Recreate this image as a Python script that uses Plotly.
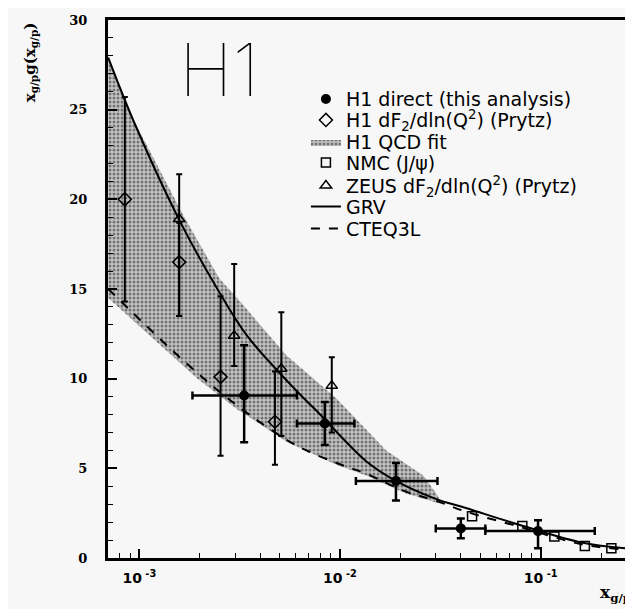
import plotly.graph_objects as go

# ---------------- data ----------------
# H1 direct (this analysis)
h1d_x = [3.33e-3, 8.4e-3, 0.019, 0.040, 0.097]
h1d_y = [9.06, 7.5, 4.3, 1.65, 1.5]
h1d_yp = [2.8, 1.2, 1.0, 0.55, 0.6]
h1d_ym = [2.6, 1.2, 1.1, 0.55, 0.95]
h1d_xlo = [1.84e-3, 6.1e-3, 0.012, 0.030, 0.053]
h1d_xhi = [6.1e-3, 0.0118, 0.0306, 0.053, 0.186]

# H1 dF2/dln(Q^2) (Prytz)
h1p_x = [8.47e-4, 1.58e-3, 2.54e-3, 4.74e-3]
h1p_y = [20.0, 16.5, 10.1, 7.6]
h1p_yp = [5.7, 2.2, 4.5, 2.8]
h1p_ym = [5.7, 3.0, 4.4, 2.4]

# NMC (J/psi)
nmc_x = [0.0455, 0.081, 0.117, 0.166, 0.225]
nmc_y = [2.33, 1.78, 1.2, 0.67, 0.55]

# ZEUS dF2/dln(Q^2) (Prytz)
zeus_x = [1.58e-3, 2.97e-3, 5.1e-3, 9.1e-3]
zeus_y = [18.9, 12.4, 10.55, 9.6]
zeus_yp = [2.5, 4.0, 3.15, 1.6]
zeus_ym = [5.4, 1.7, 3.75, 2.6]

# H1 QCD fit band
band_x_up = [7.0e-4, 9.0e-4, 1.64e-3, 2.5e-3, 3.18e-3, 5.4e-3, 9.6e-3, 0.0135, 0.017, 0.026, 0.031]
band_y_up = [28.0, 24.8, 19.2, 15.6, 14.3, 11.3, 8.9, 7.2, 6.0, 4.6, 3.4]
band_x_lo = [7.0e-4, 1.95e-3, 3.07e-3, 5.4e-3, 9.6e-3, 0.0135, 0.0213, 0.031]
band_y_lo = [14.5, 10.0, 8.3, 6.5, 5.2, 4.6, 3.6, 3.05]

# GRV
grv_x = [7.0e-4, 9.5e-4, 1.59e-3, 2.45e-3, 3.44e-3, 6.1e-3, 7.66e-3, 0.0135, 0.019, 0.030, 0.042, 0.081, 0.162, 0.29]
grv_y = [27.9, 24.2, 18.8, 15.0, 12.4, 9.3, 8.2, 5.4, 4.3, 3.3, 2.8, 1.8, 0.85, 0.5]

# CTEQ3L
cteq_x = [7.0e-4, 1.74e-3, 3.07e-3, 5.4e-3, 6.8e-3, 9.6e-3, 0.0135, 0.0213, 0.030, 0.042, 0.081, 0.162, 0.29]
cteq_y = [15.0, 10.8, 8.5, 6.6, 6.0, 5.3, 4.7, 3.7, 3.2, 2.6, 1.7, 0.75, 0.45]

x_tickvals = [1e-3, 1e-2, 1e-1]
x_ticktext = ["10<sup> -3</sup>", "10<sup> -2</sup>", "10<sup> -1</sup>"]
y_tickvals = [0, 5, 10, 15, 20, 25, 30]

# ---------------- figure ----------------
BG = "#f7f7f7"
fig = go.Figure()

fig.add_trace(go.Scatter(
    x=band_x_up + band_x_lo[::-1],
    y=band_y_up + band_y_lo[::-1],
    mode="lines", line=dict(width=0, color="#888"),
    fill="toself", fillcolor="#9a9a9a",
    fillpattern=dict(shape=".", bgcolor="#c4c4c4", fgcolor="#222222", size=4, solidity=0.45),
    name="H1 QCD fit", legend="legend3", hoverinfo="skip"))

fig.add_trace(go.Scatter(
    x=grv_x, y=grv_y, mode="lines", line=dict(color="black", width=2, shape="spline"),
    name="GRV", legend="legend6"))
fig.add_trace(go.Scatter(
    x=cteq_x, y=cteq_y, mode="lines", line=dict(color="black", width=2, dash="dash", shape="spline"),
    name="CTEQ3L", legend="legend7"))

fig.add_trace(go.Scatter(
    x=nmc_x, y=nmc_y, mode="markers",
    marker=dict(symbol="square-open", size=9, color="black", line=dict(width=1.5)),
    name="NMC (J/ψ)", legend="legend4"))

fig.add_trace(go.Scatter(
    x=zeus_x, y=zeus_y, mode="markers",
    marker=dict(symbol="triangle-up-open", size=10, color="black", line=dict(width=1.5)),
    error_y=dict(type="data", array=zeus_yp, arrayminus=zeus_ym, color="black", thickness=2, width=3),
    name="ZEUS dF<sub>2</sub>/dln(Q<sup>2</sup>) (Prytz)", legend="legend5"))

fig.add_trace(go.Scatter(
    x=h1p_x, y=h1p_y, mode="markers",
    marker=dict(symbol="diamond-open", size=10, color="black", line=dict(width=1.5)),
    error_y=dict(type="data", array=h1p_yp, arrayminus=h1p_ym, color="black", thickness=2, width=3),
    name="H1 dF<sub>2</sub>/dln(Q<sup>2</sup>) (Prytz)", legend="legend2"))

fig.add_trace(go.Scatter(
    x=h1d_x, y=h1d_y, mode="markers",
    marker=dict(symbol="circle", size=10, color="black"),
    error_y=dict(type="data", array=h1d_yp, arrayminus=h1d_ym, color="black", thickness=2.5, width=4),
    error_x=dict(type="data", array=[hi - x for hi, x in zip(h1d_xhi, h1d_x)],
                 arrayminus=[x - lo for lo, x in zip(h1d_xlo, h1d_x)],
                 color="black", thickness=2.5, width=4),
    name="H1 direct (this analysis)", legend="legend"))

minor_x = [m * 10.0 ** e for e in (-4, -3, -2, -1) for m in range(2, 10)]
minor_x = [v for v in minor_x if 6.9e-4 < v < 0.29]

fig.update_xaxes(
    type="log", range=[-3.156, -0.54],
    tickvals=x_tickvals, ticktext=x_ticktext,
    ticks="inside", ticklen=9, tickwidth=1.5, tickcolor="black",
    minor=dict(tickvals=minor_x, ticks="inside", ticklen=5, tickwidth=1.2, tickcolor="black"),
    showline=True, linewidth=3, linecolor="black", mirror=True,
    showgrid=False, zeroline=False, ticklabelstandoff=5,
    tickfont=dict(family="DejaVu Sans", size=14, color="black", weight="bold"),
)
fig.update_yaxes(
    range=[0, 30], tickvals=y_tickvals,
    ticks="inside", ticklen=9, tickwidth=1.5, tickcolor="black",
    minor=dict(dtick=1, ticks="inside", ticklen=5, tickwidth=1.2, tickcolor="black"),
    showline=True, linewidth=3, linecolor="black", mirror=True,
    showgrid=False, zeroline=False, ticklabelstandoff=15,
    tickfont=dict(family="DejaVu Serif", size=13, color="black", weight="bold"),
)

fig.add_annotation(
    text="x<sub>g/p</sub>g(x<sub>g/p</sub>)", textangle=-90,
    xref="paper", yref="paper", x=-0.148, y=1.0, xanchor="center", yanchor="top",
    showarrow=False, font=dict(family="DejaVu Serif", size=15, color="black", weight="bold"))
fig.add_annotation(
    text="x<sub>g/p</sub>",
    xref="paper", yref="paper", x=1.0, y=-0.04, xanchor="right", yanchor="top",
    showarrow=False, font=dict(family="DejaVu Serif", size=17, color="black", weight="bold"))
fig.add_annotation(
    text="H1",
    xref="paper", yref="paper", x=0.212, y=0.995, xanchor="center", yanchor="top",
    showarrow=False, font=dict(family="Inter", size=73, color="black", weight=100))

leg_font = dict(family="DejaVu Sans", size=19, color="black")
row_y = [0.853, 0.814, 0.773, 0.735, 0.692, 0.653, 0.612]
legends = {}
for i, yy in enumerate(row_y):
    key = "legend" if i == 0 else f"legend{i + 1}"
    legends[key] = dict(x=0.377, y=yy, xanchor="left", yanchor="middle",
                        bgcolor="rgba(0,0,0,0)", borderwidth=0, font=leg_font,
                        itemwidth=30)

fig.update_layout(
    width=633, height=609,
    margin=dict(l=100, r=5, t=10, b=59),
    paper_bgcolor=BG, plot_bgcolor=BG,
    showlegend=True,
    **legends,
)

fig.write_html("out.html")
